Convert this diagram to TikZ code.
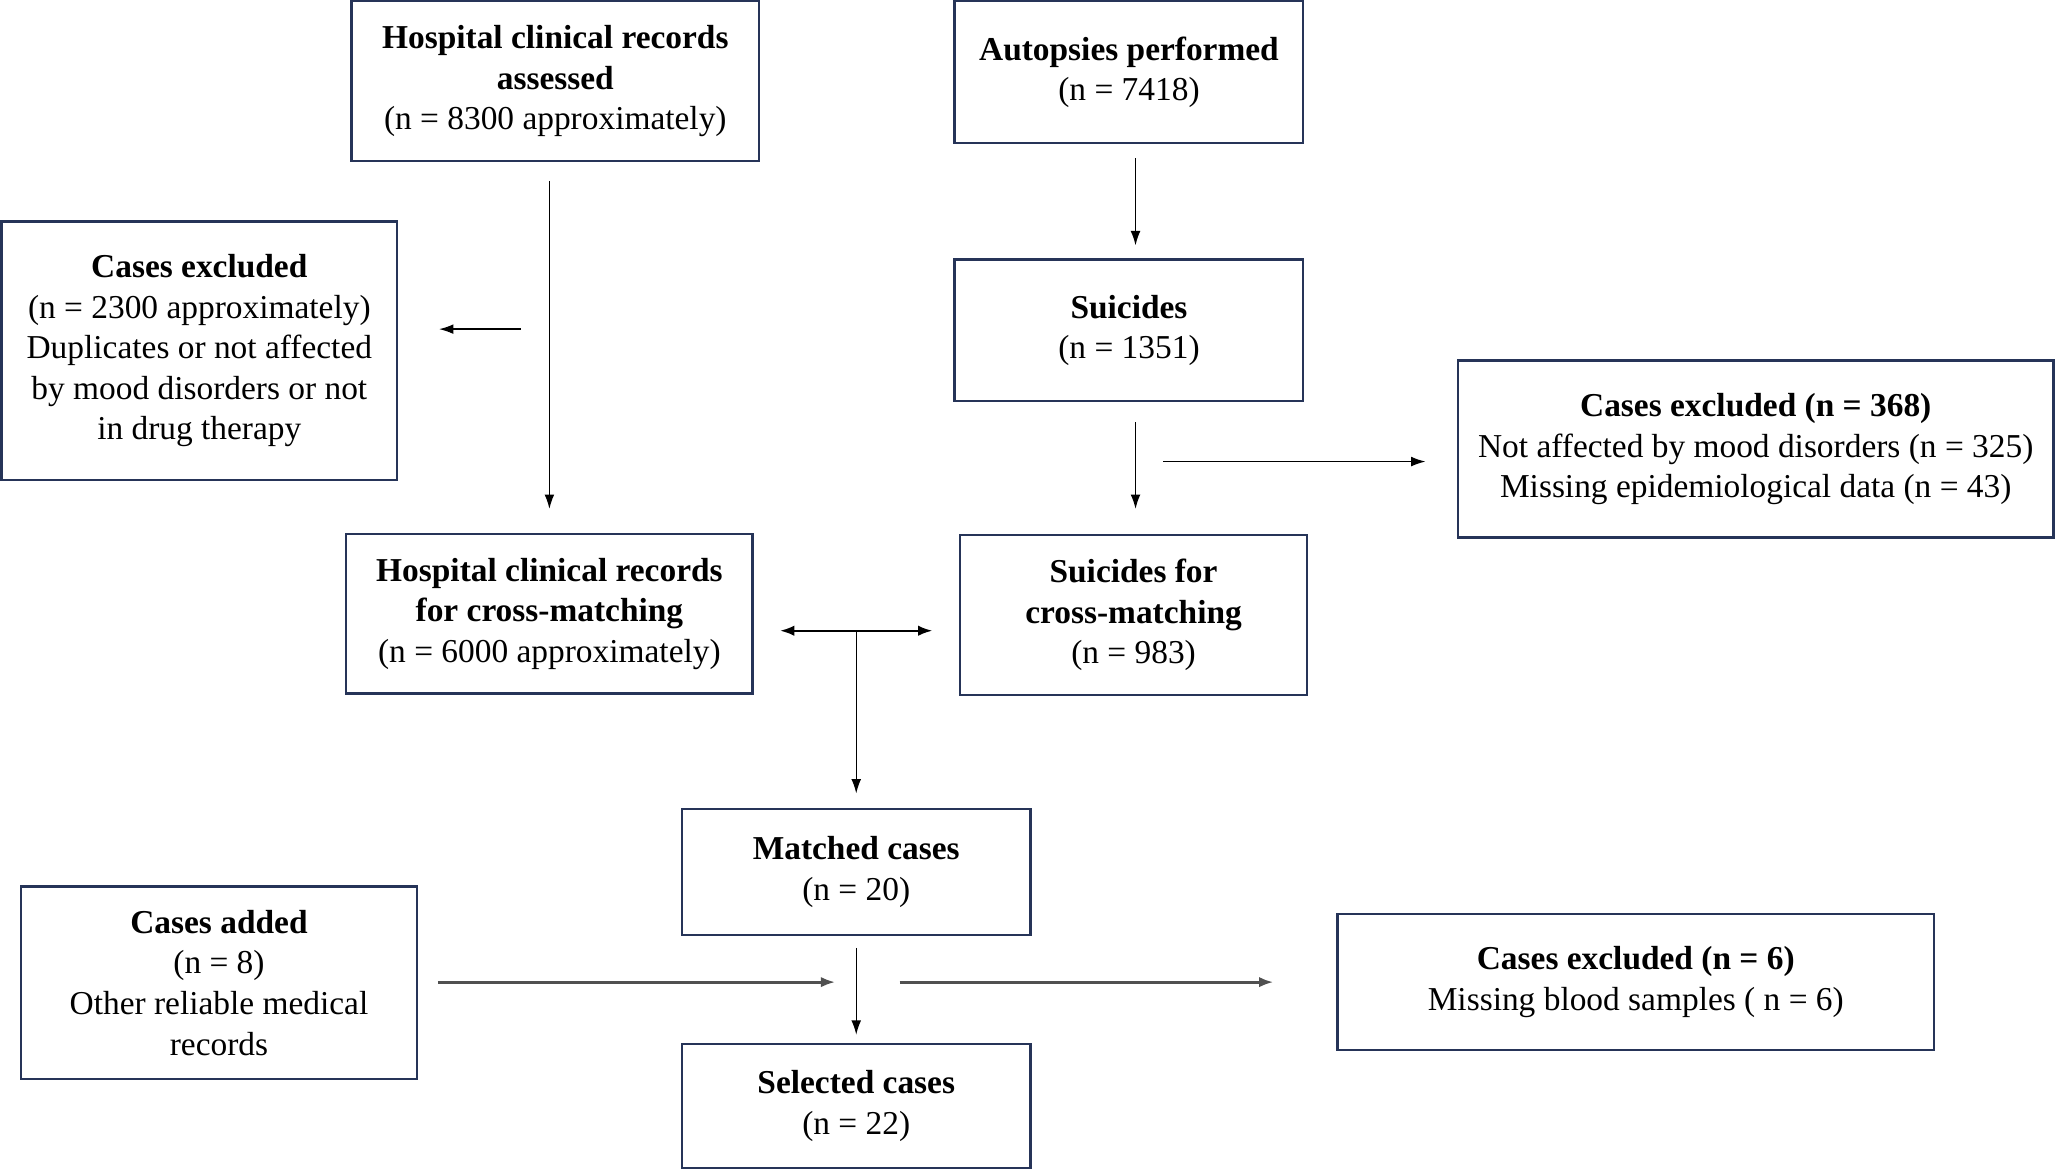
\documentclass[tikz,border=0pt]{standalone}
\usepackage{fontspec}
\setmainfont{Liberation Serif}
\usetikzlibrary{arrows.meta}
\definecolor{boxline}{RGB}{38,52,88}
\definecolor{arrgray}{RGB}{80,80,80}

\begin{document}
\begin{tikzpicture}[x=0.02cm, y=-0.02cm,
  box/.style={rectangle, draw=boxline, line width=1pt, inner sep=0pt, align=center,
    font=\fontsize{14.5}{17.6}\selectfont},
  arr/.style={-{Latex[length=2.2mm,width=1.5mm]}, line width=0.6pt},
  harr/.style={-{Latex[length=2.2mm,width=1.6mm]}, line width=1.3pt, draw=arrgray}]
\useasboundingbox (0,0) rectangle (1568,893);

\node[box, minimum width=6.22cm, minimum height=2.44cm] (hosp) at (423.5,62) {\textbf{Hospital clinical records}\\\textbf{assessed}\\(n = 8300 approximately)};
\node[box, minimum width=5.32cm, minimum height=2.16cm] (autop) at (861,55) {\textbf{Autopsies performed}\\(n = 7418)};
\node[box, minimum width=6.04cm, minimum height=3.94cm] (exclA) at (152,267.5) {\textbf{Cases excluded}\\(n = 2300 approximately)\\Duplicates or not affected\\by mood disorders or not\\in drug therapy};
\node[box, minimum width=5.32cm, minimum height=2.16cm] (suic) at (861,252) {\textbf{Suicides}\\(n = 1351)};
\node[box, minimum width=9.08cm, minimum height=2.70cm] (exclB) at (1339,342.5) {\textbf{Cases excluded (n = 368)}\\Not affected by mood disorders (n = 325)\\Missing epidemiological data (n = 43)};
\node[box, minimum width=6.20cm, minimum height=2.44cm] (hospcm) at (419,468) {\textbf{Hospital clinical records}\\\textbf{for cross-matching}\\(n = 6000 approximately)};
\node[box, minimum width=5.30cm, minimum height=2.44cm] (suiccm) at (864.5,469) {\textbf{Suicides for}\\\textbf{cross-matching}\\(n = 983)};
\node[box, minimum width=5.32cm, minimum height=1.92cm] (matched) at (653,665) {\textbf{Matched cases}\\(n = 20)};
\node[box, minimum width=6.04cm, minimum height=2.94cm] (added) at (167,749.5) {\textbf{Cases added}\\(n = 8)\\Other reliable medical\\records};
\node[box, minimum width=9.10cm, minimum height=2.08cm] (exclC) at (1247.5,749) {\textbf{Cases excluded (n = 6)}\\Missing blood samples ( n = 6)};
\node[box, minimum width=5.32cm, minimum height=1.90cm] (selected) at (653,843.5) {\textbf{Selected cases}\\(n = 22)};

\coordinate (fromhosp) at (397,251);
\coordinate (fromsuic) at (887,352);
\coordinate (mid) at (653,481);
\coordinate (join) at (653,749);

\draw[arr, shorten <=0.28cm, shorten >=0.36cm] (hospcm.north |- hosp.south) -- (hospcm.north);
\draw[arr, shorten >=0.62cm] (fromhosp) -- (fromhosp -| exclA.east);
\draw[arr, shorten <=0.22cm, shorten >=0.2cm] ([xshift=0.1cm]autop.south) -- ([xshift=0.1cm]suic.north);
\draw[arr, shorten <=0.3cm, shorten >=0.38cm] ([xshift=0.1cm]suic.south) -- ([xshift=0.1cm]suic.south |- suiccm.north);
\draw[arr, shorten >=0.48cm] (fromsuic) -- (fromsuic -| exclB.west);
\draw[arr, {Latex[length=2.2mm,width=1.6mm]}-{Latex[length=2.2mm,width=1.6mm]}, line width=1pt, shorten <=0.4cm, shorten >=0.4cm] (mid -| hospcm.east) -- (mid -| suiccm.west);
\draw[arr, shorten >=0.22cm] (mid) -- (matched.north);
\draw[arr, shorten <=0.18cm, shorten >=0.12cm] (matched) -- (selected);
\draw[harr, shorten <=0.3cm, shorten >=0.32cm] (added.east |- join) -- (join);
\draw[harr, shorten <=0.66cm, shorten >=0.96cm] (join) -- (join -| exclC.west);
\end{tikzpicture}
\end{document}
